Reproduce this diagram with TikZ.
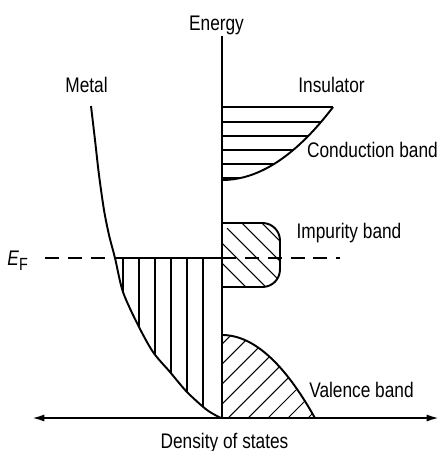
\documentclass[tikz,border=0pt]{standalone}
\usepackage{fontspec}
\setmainfont[FakeStretch=0.82]{Liberation Sans}
\usetikzlibrary{arrows.meta}
\begin{document}
\begin{tikzpicture}[x=0.02cm,y=-0.02cm,
  outline/.style={line width=1.1pt},
  hatch/.style={line width=0.6pt},
  lbl/.style={inner sep=0pt,anchor=base,font=\fontsize{12}{14}\selectfont},
  fermi/.style={line width=0.8pt,dash pattern=on 8pt off 5pt}]
\useasboundingbox (0,0) rectangle (440,451);
% named points
\coordinate (top) at (222,36);
\coordinate (O) at (222,418);
\coordinate (L) at (32,418);
\coordinate (R) at (439,418);
\coordinate (efl) at (45,258);
\coordinate (efm) at (115,258);
\coordinate (efa) at (222,258);
\coordinate (efr) at (340,258);
% labels
\node[lbl] (energy) at (216.5,30) {Energy};
\node[lbl] (metal) at (86.5,92) {Metal};
\node[lbl] (insul) at (331.5,92) {Insulator};
\node[lbl] (cond) at (372.5,157) {Conduction band};
\node[lbl] (impur) at (349,238) {Impurity band};
\node[lbl] (val) at (361.5,397) {Valence band};
\node[lbl] (dos) at (224.5,448) {Density of states};
\node[lbl,anchor=base west] (ef) at (7,265) {\textit{E}\raisebox{-0.45ex}{\fontsize{10}{12}\selectfont F}};
% metal hatch
\begin{scope}
  \clip plot[smooth] coordinates {(91,106) (95,140) (99,175) (104,210) (109,235) (115,258) (123,292) (138,325) (153,352) (170,372) (187,392) (207,410) (221,418)} -- (222,418) -- (222,106) -- cycle;
  \foreach \x in {123,139,155,171,187,203} \draw[hatch] (\x,258) -- (\x,420);
\end{scope}
\draw[outline] plot[smooth] coordinates {(91,106) (95,140) (99,175) (104,210) (109,235) (115,258) (123,292) (138,325) (153,352) (170,372) (187,392) (207,410) (221,418)};
% conduction band
\foreach \y in {107,122,136,150,164,178}
  \draw[hatch] (222,\y) -- ({222+13*sqrt(180-\y)},\y);
\draw[outline] plot[domain=0:8.544,samples=50] ({222+13*\x},{180-\x*\x});
% impurity band
\begin{scope}
  \clip[rounded corners=10] (222,223) -- (280,223) -- (280,287) -- (222,287) -- cycle;
  \foreach \c in {-61,-41,-21,-1,19,39,59} \draw[hatch] ({\c+215},215) -- ({\c+295},295);
\end{scope}
\draw[outline,rounded corners=10] (222,223) -- (280,223) -- (280,287) -- (222,287);
% valence band
\begin{scope}
  \clip plot[domain=0:9.11,samples=50] ({222+10.2*\x},{335+\x*\x}) -- (222,418) -- cycle;
  \foreach \c in {566,586,...,726} \draw[hatch] ({\c-330},330) -- ({\c-420},420);
\end{scope}
\draw[outline] plot[domain=0:9.11,samples=50] ({222+10.2*\x},{335+\x*\x});
% Fermi level
\draw[fermi] (efl) -- (efm);
\draw[outline] (efm) -- (efa);
\draw[fermi] (efa) -- (efr);
% axes
\draw[outline] (top) -- (O);
\draw[outline,{Latex[length=7pt,width=4pt]}-{Latex[length=7pt,width=4pt]}] (L) -- (R);
\end{tikzpicture}
\end{document}
